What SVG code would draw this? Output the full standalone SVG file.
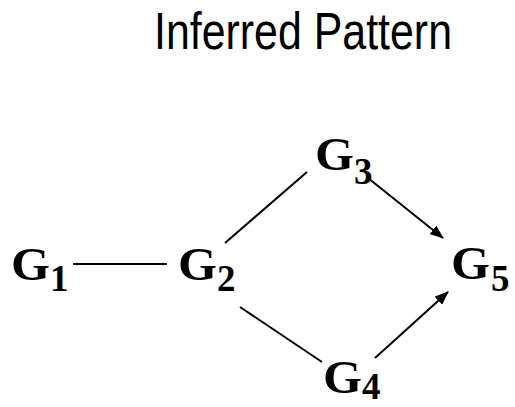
<svg xmlns="http://www.w3.org/2000/svg" width="515" height="407" viewBox="0 0 515 407">
  <style>
    .title { font-family: "Liberation Sans", Arial, sans-serif; font-size: 52px; fill: #000; }
    .node { font-family: "Liberation Serif", "Times New Roman", serif; font-weight: bold; font-size: 46px; fill: #000; }
    .sub { font-family: "Liberation Serif", "Times New Roman", serif; font-weight: bold; font-size: 37px; fill: #000; }
    .edge { stroke: #000; stroke-width: 2; fill: none; }
  </style>
  <defs>
    <marker id="arrow" markerWidth="14" markerHeight="11" refX="13" refY="5.5" orient="auto" markerUnits="userSpaceOnUse">
      <path d="M0,0 L14,5.5 L0,11 Z" fill="#000"/>
    </marker>
  </defs>

  <text class="title" x="154" y="49" textLength="298" lengthAdjust="spacingAndGlyphs">Inferred Pattern</text>

  <g id="connectors">
    <line class="edge" x1="73" y1="264" x2="167" y2="264"/>
    <line class="edge" x1="225" y1="243" x2="307" y2="172"/>
    <line class="edge" x1="240" y1="307" x2="322" y2="362"/>
    <line class="edge" x1="368" y1="178" x2="443" y2="238" marker-end="url(#arrow)"/>
    <line class="edge" x1="375" y1="358" x2="448" y2="292" marker-end="url(#arrow)"/>
  </g>

  <g id="G1">
    <text class="node" x="11" y="280" textLength="39" lengthAdjust="spacingAndGlyphs">G</text>
    <text class="sub" x="50" y="291">1</text>
  </g>
  <g id="G2">
    <text class="node" x="178" y="280" textLength="39" lengthAdjust="spacingAndGlyphs">G</text>
    <text class="sub" x="217" y="291">2</text>
  </g>
  <g id="G3">
    <text class="node" x="315" y="170" textLength="39" lengthAdjust="spacingAndGlyphs">G</text>
    <text class="sub" x="354" y="184">3</text>
  </g>
  <g id="G4">
    <text class="node" x="323" y="393" textLength="39" lengthAdjust="spacingAndGlyphs">G</text>
    <text class="sub" x="362" y="399">4</text>
  </g>
  <g id="G5">
    <text class="node" x="451" y="279" textLength="39" lengthAdjust="spacingAndGlyphs">G</text>
    <text class="sub" x="491" y="291">5</text>
  </g>
</svg>
